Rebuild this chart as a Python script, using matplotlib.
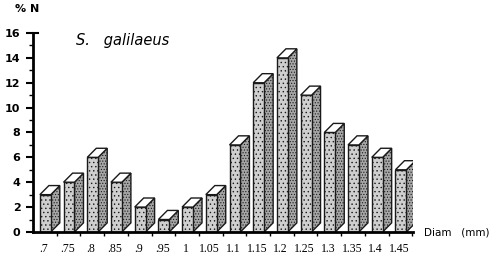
import numpy as np
import matplotlib.pyplot as plt
from matplotlib.patches import Polygon

# size classes (mm) and percentage of individuals
diam_labels = [".7", ".75", ".8", ".85", ".9", ".95", "1", "1.05",
               "1.1", "1.15", "1.2", "1.25", "1.3", "1.35", "1.4", "1.45"]
pct_n = [3, 4, 6, 4, 2, 1, 2, 3, 7, 12, 14, 11, 8, 7, 6, 5]

plt.rcParams["hatch.color"] = "#5a5a5a"
plt.rcParams["hatch.linewidth"] = 0.5

fig = plt.figure(figsize=(5, 2.58), dpi=100)
ax = fig.add_axes([0.066, 0.101, 0.76, 0.771])

x = np.arange(len(pct_n))
w = 0.46      # front face width
dx = 0.38     # depth offset (x units)
dy = 0.73     # depth offset (y units)
left = x - 0.21

# front faces
ax.bar(left, pct_n, width=w, align="edge", color="#cfcfcf",
       edgecolor="#1a1a1a", linewidth=1.0, hatch="....", zorder=3)

for l, v in zip(left, pct_n):
    r = l + w
    side = Polygon([(r, 0), (r + dx, dy), (r + dx, v + dy), (r, v)],
                   closed=True, facecolor="#a6a6a6", edgecolor="#1a1a1a",
                   linewidth=1.0, hatch="......", zorder=2)
    top = Polygon([(l, v), (l + dx, v + dy), (r + dx, v + dy), (r, v)],
                  closed=True, facecolor="white", edgecolor="#1a1a1a",
                  linewidth=1.0, zorder=4)
    ax.add_patch(side)
    ax.add_patch(top)

ax.set_xlim(-0.5, 15.53)
ax.set_ylim(0, 16)

for s in ["top", "right"]:
    ax.spines[s].set_visible(False)
ax.spines["left"].set_linewidth(2)
ax.spines["bottom"].set_linewidth(2)
ax.spines["left"].set_zorder(5)
ax.spines["bottom"].set_zorder(5)

ax.set_yticks(range(0, 17, 2))
ax.set_yticks(range(1, 17, 2), minor=True)
ax.tick_params(axis="y", which="major", length=5, width=1.5, pad=4,
               labelsize=8)
ax.tick_params(axis="y", which="minor", length=3, width=1)
for lab in ax.get_yticklabels():
    lab.set_fontweight("bold")

ax.set_xticks(x - 0.05)
ax.set_xticklabels(diam_labels, family="Liberation Serif", fontsize=8.5)
ax.set_xticks(x + 0.5, minor=True)
ax.tick_params(axis="x", which="major", length=0, pad=8)
ax.tick_params(axis="x", which="minor", length=3, width=1)

# little cap at the top of the y axis
ax.plot([-0.5, -0.3], [16, 16], color="black", lw=1.5, clip_on=False)

fig.text(0.03, 0.955, "% N", fontsize=8, fontweight="bold")
ax.text(1.3, 15.4, "S.   galilaeus", fontsize=10.5, style="italic",
        va="center")
fig.text(0.848, 0.1, "Diam   (mm)", fontsize=7.5, va="center")

plt.savefig("out.png", dpi=100)
